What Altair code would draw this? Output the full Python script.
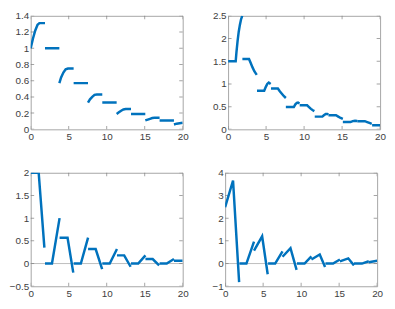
import altair as alt
import pandas as pd

BLUE = "#0072BD"

x_ticks = [0, 5, 10, 15, 20]
p1_yticks = [0, 0.2, 0.4, 0.6, 0.8, 1.0, 1.2, 1.4]
p2_yticks = [0, 0.5, 1.0, 1.5, 2.0, 2.5]
p3_yticks = [-0.5, 0, 0.5, 1.0, 1.5, 2.0]
p4_yticks = [-1, 0, 1, 2, 3, 4]

# Panel 1 (top-left): segments of x and y
p1_x = [
    [0, 0.3, 0.6, 0.9, 1.15, 1.88],
    [1.88, 3.77],
    [3.77, 4.0, 4.3, 4.6, 4.9, 5.65],
    [5.65, 7.54],
    [7.54, 7.8, 8.1, 8.4, 8.7, 9.42],
    [9.42, 11.31],
    [11.31, 11.6, 11.9, 12.2, 12.5, 13.2],
    [13.2, 15.08],
    [15.08, 15.4, 15.7, 16.0, 16.3, 16.96],
    [16.96, 18.85],
    [18.85, 19.2, 19.6, 20],
]
p1_y = [
    [1.0, 1.12, 1.22, 1.29, 1.31, 1.31],
    [1.0, 1.0],
    [0.57, 0.64, 0.70, 0.74, 0.75, 0.75],
    [0.57, 0.57],
    [0.33, 0.37, 0.40, 0.425, 0.43, 0.43],
    [0.33, 0.33],
    [0.19, 0.21, 0.23, 0.245, 0.25, 0.25],
    [0.19, 0.19],
    [0.11, 0.12, 0.13, 0.14, 0.143, 0.143],
    [0.11, 0.11],
    [0.06, 0.07, 0.075, 0.08],
]

# Panel 2 (top-right)
p2_x = [
    [0, 1.0, 1.1, 1.25, 1.4, 1.55, 1.7, 1.86],
    [1.88, 2.75, 2.95, 3.2, 3.45, 3.77],
    [3.8, 4.75, 4.95, 5.15, 5.35, 5.6],
    [5.65, 6.55, 6.8, 7.1, 7.35, 7.6],
    [7.6, 8.65, 8.85, 9.05, 9.2, 9.4],
    [9.42, 10.4, 10.65, 10.9, 11.15, 11.35],
    [11.4, 12.4, 12.6, 12.85, 13.05, 13.2],
    [13.2, 14.2, 14.5, 14.8, 15.1],
    [15.1, 16.1, 16.4, 16.7, 17.0],
    [17.0, 18.0, 18.3, 18.6, 18.9],
    [18.95, 20],
]
p2_y = [
    [1.5, 1.5, 1.7, 1.95, 2.15, 2.3, 2.42, 2.5],
    [1.55, 1.55, 1.47, 1.37, 1.28, 1.2],
    [0.85, 0.85, 0.93, 1.0, 1.03, 1.0],
    [0.9, 0.9, 0.84, 0.78, 0.73, 0.69],
    [0.49, 0.49, 0.55, 0.585, 0.59, 0.57],
    [0.53, 0.53, 0.49, 0.45, 0.42, 0.4],
    [0.28, 0.28, 0.31, 0.34, 0.34, 0.33],
    [0.31, 0.31, 0.28, 0.25, 0.23],
    [0.16, 0.16, 0.18, 0.19, 0.185],
    [0.18, 0.18, 0.16, 0.14, 0.12],
    [0.09, 0.09],
]

# Panel 3 (bottom-left)
p3_x = [
    [0, 1.05, 1.8],
    [1.88, 2.8, 3.8],
    [3.8, 4.85, 5.6],
    [5.65, 6.6, 7.55],
    [7.55, 8.55, 9.4],
    [9.42, 10.4, 11.35],
    [11.35, 12.3, 13.15],
    [13.2, 14.15, 15.1],
    [15.1, 16.05, 16.9],
    [16.96, 17.9, 18.85],
    [18.85, 20],
]
p3_y = [
    [2.0, 2.0, 0.35],
    [0, 0, 1.0],
    [0.57, 0.57, -0.2],
    [0, 0, 0.57],
    [0.32, 0.32, -0.12],
    [0, 0, 0.32],
    [0.18, 0.18, -0.07],
    [0, 0, 0.18],
    [0.1, 0.1, -0.04],
    [0, 0, 0.1],
    [0.06, 0.06],
]

# Panel 4 (bottom-right)
p4_x = [
    [0, 1.04, 1.84],
    [1.88, 2.8, 3.8],
    [3.8, 4.87, 5.6],
    [5.65, 6.58, 7.55],
    [7.55, 8.6, 9.4],
    [9.45, 10.45, 11.35],
    [11.35, 12.45, 13.15],
    [13.2, 14.2, 15.1],
    [15.1, 16.2, 16.95],
    [16.96, 18.0, 18.9],
    [18.9, 20],
]
p4_y = [
    [2.48, 3.66, -0.82],
    [0, 0, 0.97],
    [0.57, 1.2, -0.47],
    [0, 0, 0.54],
    [0.3, 0.68, -0.28],
    [0, 0, 0.32],
    [0.18, 0.4, -0.15],
    [0, 0, 0.18],
    [0.1, 0.23, -0.08],
    [0, 0, 0.1],
    [0.06, 0.12],
]

W, H = 154, 115
TICK_COLOR = "#7f7f7f"


def seg_frame(xs, ys):
    rows = []
    for s, (xx, yy) in enumerate(zip(xs, ys)):
        for a, b in zip(xx, yy):
            rows.append({"x": a, "y": b, "seg": s})
    return pd.DataFrame(rows)


def panel(xs, ys, ydom, yticks, zero_line):
    xsc = alt.Scale(domain=[0, 20], nice=False, zero=False)
    ysc = alt.Scale(domain=ydom, nice=False, zero=False)
    xax = alt.Axis(values=x_ticks, format="~g", title=None, labelFlush=False,
                   labelPadding=2, labelOverlap=False)
    yax = alt.Axis(values=yticks, format="~g", title=None, labelPadding=2,
                   labelOverlap=False)
    X = lambda f: alt.X(f, scale=xsc, axis=xax)
    Y = lambda f: alt.Y(f, scale=ysc, axis=yax)

    layers = []
    if zero_line:
        zdf = pd.DataFrame({"y": [0]})
        layers.append(alt.Chart(zdf).mark_rule(color="#bdbdbd", strokeWidth=1)
                      .encode(y=Y("y:Q")))

    xt = pd.DataFrame({"x": x_ticks * 2,
                       "y": [ydom[0]] * len(x_ticks) + [ydom[1]] * len(x_ticks)})
    yt = pd.DataFrame({"x": [0] * len(yticks) + [20] * len(yticks),
                       "y": yticks * 2})
    layers.append(alt.Chart(xt).mark_tick(orient="vertical", size=7, thickness=1,
                                          clip=True, color=TICK_COLOR)
                  .encode(x=X("x:Q"), y=Y("y:Q")))
    layers.append(alt.Chart(yt).mark_tick(orient="horizontal", size=7, thickness=1,
                                          clip=True, color=TICK_COLOR)
                  .encode(x=X("x:Q"), y=Y("y:Q")))

    df = seg_frame(xs, ys)
    layers.append(alt.Chart(df).mark_line(color=BLUE, strokeWidth=2.5, clip=True)
                  .encode(x=X("x:Q"), y=Y("y:Q"), detail="seg:N"))
    return alt.layer(*layers).properties(width=W, height=H)


c1 = panel(p1_x, p1_y, [0, 1.4], p1_yticks, False)
c2 = panel(p2_x, p2_y, [0, 2.5], p2_yticks, False)
c3 = panel(p3_x, p3_y, [-0.5, 2.0], p3_yticks, True)
c4 = panel(p4_x, p4_y, [-1, 4], p4_yticks, True)

chart = alt.vconcat(
    alt.hconcat(c1, c2, spacing=22),
    alt.hconcat(c3, c4, spacing=22),
    spacing=25,
).properties(padding=0).configure_view(
    stroke="#a6a6a6", strokeWidth=1
).configure_axis(
    domain=False, ticks=False, grid=False,
    labelFont="Liberation Sans", labelFontSize=10, labelColor="#404040"
)

chart.save("out.html", embed_options={"renderer": "svg", "actions": False})
